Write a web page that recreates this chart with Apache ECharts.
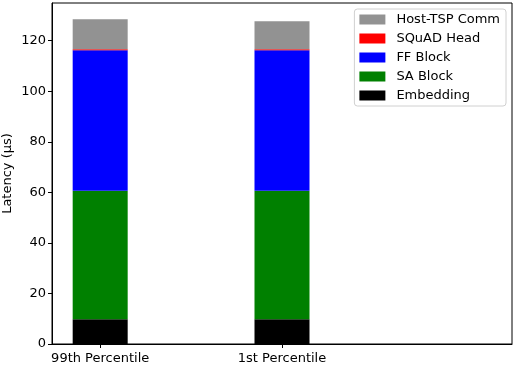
<!DOCTYPE html>
<html lang="en">
<head>
    <meta charset="UTF-8">
    <title>Latency breakdown</title>
    <style>
        html, body { margin: 0; padding: 0; background: #fff; }
    </style>
</head>
<body>
    <div id="container" style="width: 514px;height: 366px"></div>
</body>
</html>
<script src="https://cdn.jsdelivr.net/npm/echarts@6/dist/echarts.min.js"></script>
<script>
// 数据（从图上读出来的）
var categories = ['99th Percentile', '1st Percentile', ''];
var embedding = [9.8, 9.8, 0];
var saBlock = [50.8, 50.8, 0];
var ffBlock = [55.6, 55.6, 0];
var squadHead = [0.4, 0.4, 0];
var hostComm = [11.9, 11.1, 0];
var yTicks = [0, 20, 40, 60, 80, 100, 120];

var chart = echarts.init(document.getElementById('container'));
var font = 'DejaVu Sans';

// value 放第一维，这样 stack 叠的是 y
function pts(arr) {
    return arr.map(function (v, i) {
        return [v, i];
    });
}

function mkSeries(name, arr, color) {
    return {
        name: name,
        type: 'bar',
        stack: 'total',
        barWidth: 55,
        encode: { x: 1, y: 0 },
        itemStyle: { color: color },
        data: pts(arr)
    };
}

chart.setOption({
    animation: false,
    backgroundColor: '#fff',
    textStyle: { fontFamily: font },
    grid: {
        left: 52,
        right: 2,
        top: 3,
        bottom: 22,
        show: true,
        borderColor: '#000',
        borderWidth: 1,
        containLabel: false,
        outerBoundsMode: 'none'
    },
    legend: {
        orient: 'vertical',
        right: 8,
        top: 9,
        padding: [4, 6, 4, 5],
        borderColor: '#d0d0d0',
        borderWidth: 1,
        borderRadius: 3,
        itemWidth: 26,
        itemHeight: 10,
        itemGap: 6,
        icon: 'rect',
        textStyle: { fontFamily: font, fontSize: 13, color: '#000', padding: [0, 0, 0, 6] },
        data: ['Host-TSP Comm', 'SQuAD Head', 'FF Block', 'SA Block', 'Embedding']
    },
    xAxis: {
        type: 'value',
        min: -0.265,
        max: 2.265,
        splitLine: { show: false },
        axisLine: { lineStyle: { color: '#000' } },
        axisTick: { show: true, length: 4, lineStyle: { color: '#000' }, customValues: [0, 1] },
        axisLabel: {
            customValues: [0, 1],
            color: '#000',
            fontSize: 13,
            margin: 8,
            fontFamily: font,
            formatter: function (v) {
                return categories[Math.round(v)];
            }
        }
    },
    yAxis: {
        type: 'value',
        min: 0,
        max: 134.9,
        name: 'Latency (μs)',
        nameLocation: 'middle',
        nameGap: 38,
        nameMoveOverlap: false,
        nameTextStyle: { color: '#000', fontSize: 13, fontFamily: font },
        splitLine: { show: false },
        axisLine: { show: true, onZero: false, lineStyle: { color: '#000' } },
        axisTick: { show: true, length: 4, lineStyle: { color: '#000' }, customValues: yTicks },
        axisLabel: { customValues: yTicks, color: '#000', fontSize: 13, margin: 6, fontFamily: font }
    },
    series: [
        mkSeries('Embedding', embedding, '#000000'),
        mkSeries('SA Block', saBlock, '#008000'),
        mkSeries('FF Block', ffBlock, '#0000ff'),
        mkSeries('SQuAD Head', squadHead, '#ff0000'),
        mkSeries('Host-TSP Comm', hostComm, '#929292')
    ]
});
</script>
